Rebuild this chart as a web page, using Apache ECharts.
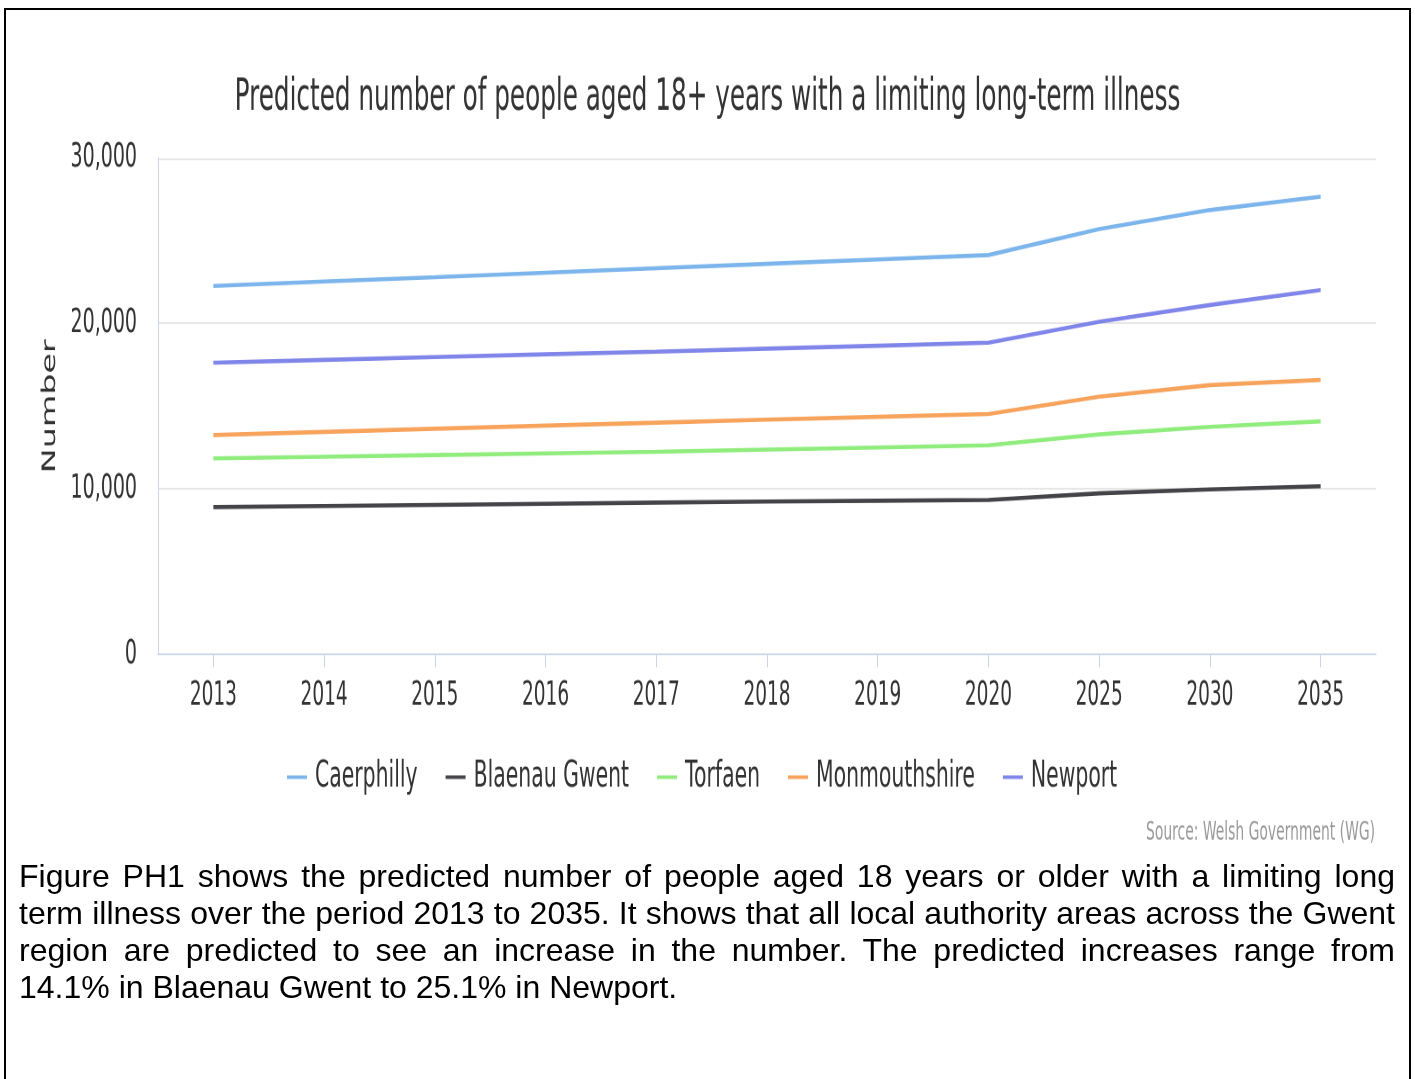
<!DOCTYPE html>
<html>
<head>
<meta charset="utf-8">
<script src="https://cdn.jsdelivr.net/npm/echarts@6/dist/echarts.min.js"></script>
<style>
  html, body { margin: 0; padding: 0; width: 1415px; height: 1079px; overflow: hidden; background: #fff; }
  #frame { position: absolute; left: 4px; top: 8px; width: 1403px; height: 1200px; border: 2px solid #000; }
  #chart { position: absolute; left: 0; top: 0; width: 1415px; height: 480px; transform: scaleY(1.8); transform-origin: 0 0; }
  #text { position: absolute; left: 19px; top: 858px; width: 1376px; font-family: "Liberation Sans", Arial, sans-serif; font-size: 32px; line-height: 37px; color: #000; }
  #text .j2 { text-align: justify; text-align-last: justify; white-space: nowrap; }
</style>
</head>
<body>
<div id="frame"></div>
<div id="chart"></div>
<div id="text">
  <div class="j2">Figure PH1 shows the predicted number of people aged 18 years or older with a limiting long</div>
  <div class="j2">term illness over the period 2013 to 2035. It shows that all local authority areas across the Gwent</div>
  <div class="j2">region are predicted to see an increase in the number. The predicted increases range from</div>
  <div>14.1% in Blaenau Gwent to 25.1% in Newport.</div>
</div>
<script>
const categories = ['2013', '2014', '2015', '2016', '2017', '2018', '2019', '2020', '2025', '2030', '2035'];

const caerphilly    = [22270, 22540, 22800, 23070, 23340, 23610, 23870, 24140, 25710, 26860, 27670];
const blaenauGwent  = [8910, 8970, 9040, 9110, 9180, 9240, 9290, 9340, 9740, 9980, 10170];
const torfaen       = [11850, 11950, 12050, 12150, 12250, 12380, 12510, 12640, 13300, 13760, 14090];
const monmouthshire = [13260, 13450, 13640, 13830, 14010, 14190, 14360, 14530, 15580, 16280, 16590];
const newport       = [17630, 17800, 17970, 18140, 18300, 18480, 18660, 18840, 20110, 21120, 22020];

const seriesNames = ['Caerphilly', 'Blaenau Gwent', 'Torfaen', 'Monmouthshire', 'Newport'];
const seriesColors = ['#7cb5ec', '#434348', '#90ed7d', '#f7a35c', '#8085e9'];
const seriesData = [caerphilly, blaenauGwent, torfaen, monmouthshire, newport];

const yMin = 0, yMax = 30000, yStep = 10000;

const titleText = 'Predicted number of people aged 18+ years with a limiting long-term illness';
const sourceText = 'Source: Welsh Government (WG)';
const yAxisName = 'Number';

const FONT = '"DejaVu Sans", Verdana, sans-serif';

const chart = echarts.init(document.getElementById('chart'), null, { renderer: 'canvas', devicePixelRatio: 2 });

chart.setOption({
  animation: false,
  backgroundColor: 'transparent',
  color: seriesColors,
  title: [
    {
      text: titleText,
      left: 'center',
      top: 42,
      padding: 0,
      textStyle: { fontFamily: FONT, fontSize: 24.7, fontWeight: 'normal', color: '#333', lineHeight: 25 }
    },
    {
      text: sourceText,
      right: 40,
      top: 455.7,
      padding: 0,
      textStyle: { fontFamily: FONT, fontSize: 13.9, fontWeight: 'normal', color: '#999', lineHeight: 14 }
    }
  ],
  legend: {
    data: seriesNames,
    left: 287,
    top: 421.7,
    padding: 0,
    icon: 'rect',
    itemWidth: 20,
    itemHeight: 2,
    itemGap: 28,
    textStyle: { fontFamily: FONT, fontSize: 20.4, color: '#333', padding: [0, 0, 0, 3] }
  },
  grid: { left: 158, right: 39, top: 87.8, bottom: 116.4, containLabel: false },
  xAxis: {
    type: 'category',
    data: categories,
    boundaryGap: true,
    axisLine: { show: true, lineStyle: { color: '#ccd6eb', width: 1 } },
    axisTick: { show: true, alignWithLabel: true, length: 7, lineStyle: { color: '#ccd6eb', width: 1 } },
    axisLabel: { margin: 13.8, fontFamily: FONT, fontSize: 18.5, color: '#333' },
    splitLine: { show: false }
  },
  yAxis: {
    type: 'value',
    min: yMin,
    max: yMax,
    interval: yStep,
    name: yAxisName,
    nameLocation: 'middle',
    nameRotate: 90,
    nameGap: 96,
    nameTextStyle: { fontFamily: FONT, fontSize: 18.5, color: '#333' },
    axisLine: { show: true, lineStyle: { color: '#ccd6eb', width: 1 } },
    axisTick: { show: false },
    axisLabel: {
      margin: 21,
      fontFamily: FONT,
      fontSize: 19,
      color: '#333',
      formatter: v => v.toLocaleString('en-US')
    },
    splitLine: { show: true, lineStyle: { color: '#e6e6e6', width: 1 } }
  },
  series: seriesNames.map((name, i) => ({
    name: name,
    type: 'line',
    data: seriesData[i],
    showSymbol: false,
    symbol: 'none',
    lineStyle: { width: 2.3, color: seriesColors[i] },
    itemStyle: { color: seriesColors[i] },
    emphasis: { disabled: true }
  }))
});
</script>
</body>
</html>
